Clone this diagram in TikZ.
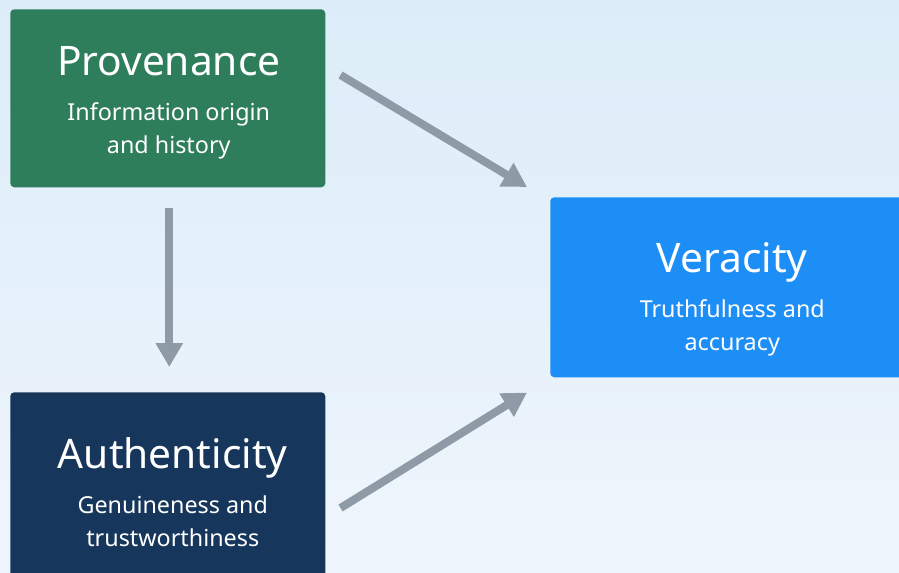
\documentclass[tikz,border=0pt]{standalone}
\usepackage{fontspec}
\setmainfont{Noto Sans}
\usetikzlibrary{arrows.meta, positioning, calc}

\definecolor{provgreen}{HTML}{2E7D5B}
\definecolor{authnavy}{HTML}{17365C}
\definecolor{verblue}{HTML}{1E8EF7}
\definecolor{arrowgray}{HTML}{8E9AA6}
\definecolor{bgtop}{HTML}{DCEDF9}
\definecolor{bgbottom}{HTML}{EFF5FC}

\newcommand{\blocktitle}[1]{{\fontsize{30.5}{34}\selectfont #1}\\[9pt]}

\begin{document}
\begin{tikzpicture}[
    x=0.75pt, y=-0.75pt,
    block/.style={rectangle, rounded corners=3pt, anchor=north west, inner sep=0pt},
    blocktext/.style={text=white, align=center, inner sep=0pt, font=\fontsize{17.5}{24.75}\selectfont},
    flow/.style={-{Triangle[width=19.5pt, length=18pt]}, line width=6pt, draw=arrowgray}
]
% Hintergrund
\clip (0,0) rectangle (899,572);
\shade[top color=bgtop, bottom color=bgbottom] (0,0) rectangle (899,572);

% Kaesten
\node[block, fill=provgreen, minimum width=236.25pt, minimum height=133.5pt] (prov) at (10,9) {};
\node[block, fill=authnavy, minimum width=236.25pt, minimum height=145.5pt] (auth) at (10,392) {};
\node[block, fill=verblue, minimum width=273pt, minimum height=135pt] (ver) at (550,197) {};

% Texte
\node[blocktext] (provtext) at ($(prov.center)+(1,4.5)$) {\blocktitle{Provenance}Information origin\\and history};
\node[blocktext] (authtext) at ($(auth.center)+(5,3)$) {\blocktitle{Authenticity}Genuineness and\\trustworthiness};
\node[blocktext] (vertext) at ($(ver.center)+(0,12)$) {\blocktitle{Veracity}Truthfulness and\\accuracy};

% Pfeile
\draw[flow] ($(prov.north east)+(15,66)$) -- ($(ver.north west)+(-23,-10)$);
\draw[flow] ($(prov.south)+(1.5,20)$) -- ($(auth.north)+(1.5,-25)$);
\draw[flow] ($(auth.north east)+(15,116)$) -- ($(ver.south west)+(-23,15)$);

\end{tikzpicture}
\end{document}
